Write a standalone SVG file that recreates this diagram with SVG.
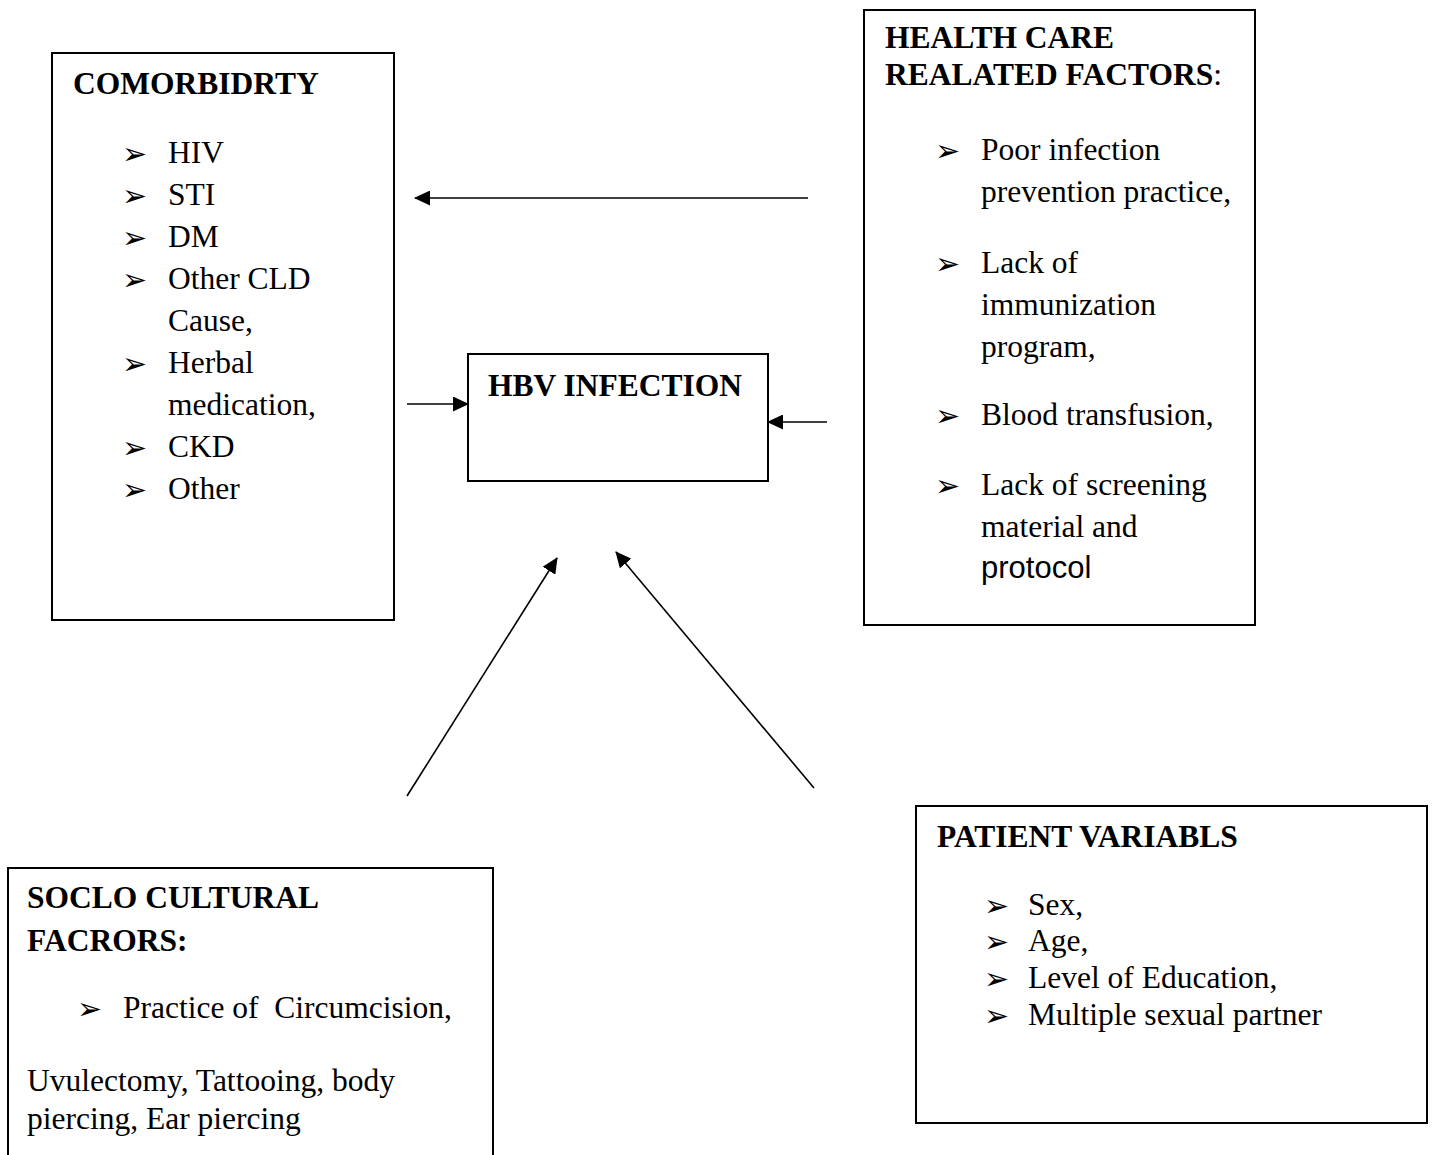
<svg xmlns="http://www.w3.org/2000/svg" width="1455" height="1155" viewBox="0 0 1455 1155">
<style>
.box{fill:#fff;stroke:#000;stroke-width:2}
.t{font-family:"Liberation Serif","Times New Roman",serif;font-size:31.5px;fill:#000}
.b{font-weight:bold}
.a{font-family:"Liberation Sans",Arial,sans-serif;font-size:31px;fill:#000}
.bul{font-family:"DejaVu Sans",sans-serif;font-size:30px;fill:#000}
.c{stroke:#000;stroke-width:1.6;fill:none}
</style>
<defs>
<marker id="ah" viewBox="0 0 16 15" refX="15" refY="7.5" markerWidth="16" markerHeight="15" markerUnits="userSpaceOnUse" orient="auto">
<path d="M0,0 L16,7.5 L0,15 z" fill="#000"/>
</marker>
</defs>
<rect width="1455" height="1155" fill="#fff"/>

<g id="comorbidity">
<rect class="box" x="52" y="53" width="342" height="567"/>
<text class="t b" x="73" y="94">COMORBIDRTY</text>
<text class="bul" x="122" y="164">➢</text><text class="t" x="168" y="163">HIV</text>
<text class="bul" x="122" y="206">➢</text><text class="t" x="168" y="205">STI</text>
<text class="bul" x="122" y="248">➢</text><text class="t" x="168" y="247">DM</text>
<text class="bul" x="122" y="290">➢</text><text class="t" x="168" y="289">Other CLD</text>
<text class="t" x="168" y="331">Cause,</text>
<text class="bul" x="122" y="374">➢</text><text class="t" x="168" y="373">Herbal</text>
<text class="t" x="168" y="415">medication,</text>
<text class="bul" x="122" y="458">➢</text><text class="t" x="168" y="457">CKD</text>
<text class="bul" x="122" y="500">➢</text><text class="t" x="168" y="499">Other</text>
</g>

<g id="healthcare">
<rect class="box" x="864" y="10" width="391" height="615"/>
<text class="t b" x="885" y="48">HEALTH CARE</text>
<text class="t" x="885" y="85"><tspan class="b">REALATED FACTORS</tspan>:</text>
<text class="bul" x="935" y="161">➢</text><text class="t" x="981" y="160">Poor infection</text>
<text class="t" x="981" y="202">prevention practice,</text>
<text class="bul" x="935" y="274">➢</text><text class="t" x="981" y="273">Lack of</text>
<text class="t" x="981" y="315">immunization</text>
<text class="t" x="981" y="357">program,</text>
<text class="bul" x="935" y="426">➢</text><text class="t" x="981" y="425">Blood transfusion,</text>
<text class="bul" x="935" y="496">➢</text><text class="t" x="981" y="495">Lack of screening</text>
<text class="t" x="981" y="537">material and</text>
<text class="a" x="981" y="578">protocol</text>
</g>

<g id="hbv">
<rect class="box" x="468" y="354" width="300" height="127"/>
<text class="t b" x="488" y="396">HBV INFECTION</text>
</g>

<g id="sociocultural">
<rect class="box" x="8" y="868" width="485" height="300"/>
<text class="t b" x="27" y="908">SOCLO CULTURAL</text>
<text class="t b" x="27" y="951">FACRORS:</text>
<text class="bul" x="77" y="1019">➢</text><text class="t" x="123" y="1018" xml:space="preserve">Practice of  Circumcision,</text>
<text class="t" x="27" y="1091">Uvulectomy, Tattooing, body</text>
<text class="t" x="27" y="1129">piercing, Ear piercing</text>
</g>

<g id="patient">
<rect class="box" x="916" y="806" width="511" height="317"/>
<text class="t b" x="937" y="847">PATIENT VARIABLS</text>
<text class="bul" x="984" y="916">➢</text><text class="t" x="1028" y="915">Sex,</text>
<text class="bul" x="984" y="952">➢</text><text class="t" x="1028" y="951">Age,</text>
<text class="bul" x="984" y="989">➢</text><text class="t" x="1028" y="988">Level of Education,</text>
<text class="bul" x="984" y="1026">➢</text><text class="t" x="1028" y="1025">Multiple sexual partner</text>
</g>

<g id="connectors">
<line class="c" x1="808" y1="198" x2="415" y2="198" marker-end="url(#ah)"/>
<line class="c" x1="407" y1="404" x2="468" y2="404" marker-end="url(#ah)"/>
<line class="c" x1="827" y1="422" x2="768" y2="422" marker-end="url(#ah)"/>
<line class="c" x1="407" y1="796" x2="557" y2="558" marker-end="url(#ah)"/>
<line class="c" x1="814" y1="788" x2="616" y2="552" marker-end="url(#ah)"/>
</g>
</svg>
